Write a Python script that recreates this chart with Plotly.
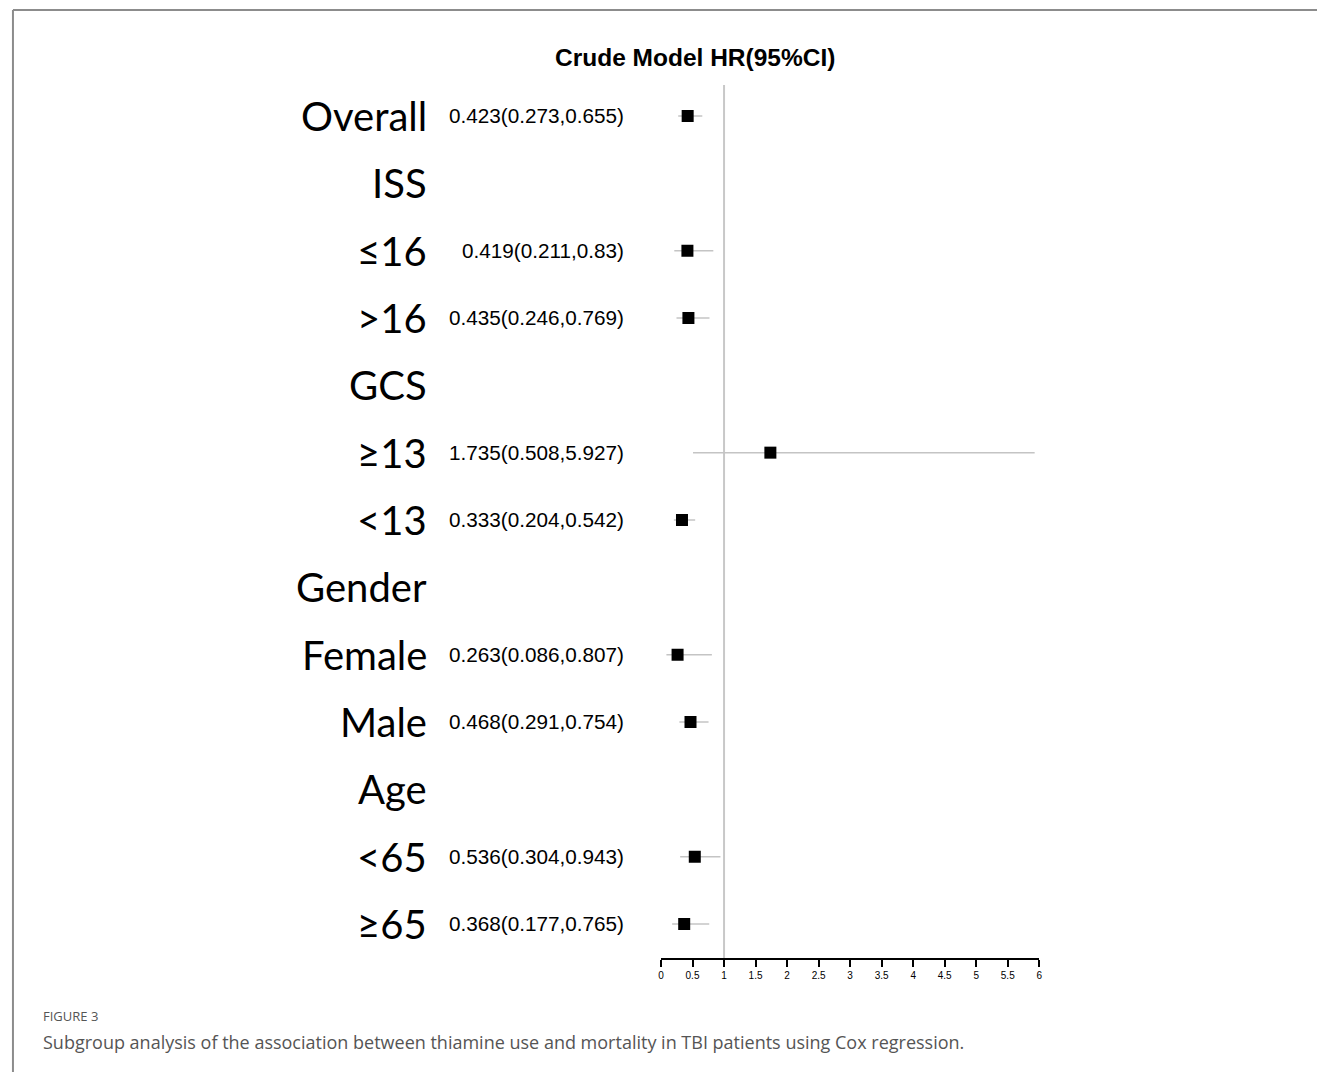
import plotly.graph_objects as go

# Subgroup rows (top to bottom); header rows carry no estimate
labels = ["Overall", "ISS", "≤16", ">16", "GCS", "≥13", "<13",
          "Gender", "Female", "Male", "Age", "<65", "≥65"]
hr = [0.423, None, 0.419, 0.435, None, 1.735, 0.333, None, 0.263, 0.468, None, 0.536, 0.368]
ci_low = [0.273, None, 0.211, 0.246, None, 0.508, 0.204, None, 0.086, 0.291, None, 0.304, 0.177]
ci_high = [0.655, None, 0.83, 0.769, None, 5.927, 0.542, None, 0.807, 0.754, None, 0.943, 0.765]
hr_text = ["0.423(0.273,0.655)", "", "0.419(0.211,0.83)", "0.435(0.246,0.769)", "",
           "1.735(0.508,5.927)", "0.333(0.204,0.542)", "", "0.263(0.086,0.807)",
           "0.468(0.291,0.754)", "", "0.536(0.304,0.943)", "0.368(0.177,0.765)"]
x_ticks = [0, 0.5, 1, 1.5, 2, 2.5, 3, 3.5, 4, 4.5, 5, 5.5, 6]
x_tick_text = ["0", "0.5", "1", "1.5", "2", "2.5", "3", "3.5", "4", "4.5", "5", "5.5", "6"]

W, H = 1320, 1072
rows = list(range(len(labels)))
pts = [i for i in rows if hr[i] is not None]

fig = go.Figure()
fig.add_trace(go.Scatter(
    x=[hr[i] for i in pts],
    y=pts,
    mode="markers",
    marker=dict(symbol="square", size=12, color="black"),
    error_x=dict(
        type="data", symmetric=False,
        array=[ci_high[i] - hr[i] for i in pts],
        arrayminus=[hr[i] - ci_low[i] for i in pts],
        color="#c4c4c4", thickness=1.5, width=0,
    ),
    hoverinfo="skip",
    showlegend=False,
))

# row labels and estimate text
for i in rows:
    fig.add_annotation(x=428 / W, xref="paper", y=i, yref="y", text=labels[i],
                       showarrow=False, xanchor="right", yanchor="middle",
                       font=dict(family="Lato", size=40, color="black"))
    if hr_text[i]:
        fig.add_annotation(x=626 / W, xref="paper", y=i, yref="y", text=hr_text[i],
                           showarrow=False, xanchor="right", yanchor="middle",
                           font=dict(family="Liberation Sans, Arial", size=20.7, color="black"))

# reference line at HR = 1
fig.add_shape(type="line", x0=1, x1=1, xref="x", y0=0, y1=1, yref="y domain",
              line=dict(color="#c8c8c8", width=2), layer="below")

# heading
fig.add_annotation(x=695 / W, y=1 - 58 / H, xref="paper", yref="paper",
                   text="<b>Crude Model HR(95%CI)</b>", showarrow=False,
                   xanchor="center", yanchor="middle",
                   font=dict(family="Liberation Sans, Arial", size=24.5, color="black"))

# caption
fig.add_annotation(x=38 / W, y=1 - 1016 / H, xref="paper", yref="paper",
                   text="FIGURE 3", showarrow=False, xanchor="left", yanchor="middle",
                   font=dict(family="Open Sans", size=13, color="#555555"))
fig.add_annotation(x=38 / W, y=1 - 1042 / H, xref="paper", yref="paper",
                   text="Subgroup analysis of the association between thiamine use and mortality in TBI patients using Cox regression.",
                   showarrow=False, xanchor="left", yanchor="middle",
                   font=dict(family="Open Sans", size=18, color="#555555"))

# panel frame (top and left edges)
fig.add_shape(type="line", xref="paper", yref="paper", x0=10 / W, x1=1, y0=1 - 10 / H, y1=1 - 10 / H,
              line=dict(color="#8c8c8c", width=2))
fig.add_shape(type="line", xref="paper", yref="paper", x0=10 / W, x1=10 / W, y0=0, y1=1 - 10 / H,
              line=dict(color="#8c8c8c", width=2))

row_px0, row_step = 116, 67.33
y_top = (85 - row_px0) / row_step
y_bot = (958 - row_px0) / row_step

fig.update_layout(
    width=W, height=H,
    margin=dict(l=0, r=0, t=0, b=0),
    paper_bgcolor="white", plot_bgcolor="white",
    xaxis=dict(
        domain=[661 / W, 1041 / W], range=[0, 6],
        tickvals=x_ticks, ticktext=x_tick_text,
        ticks="outside", ticklen=7, tickwidth=1.5, tickcolor="black",
        showline=True, linecolor="black", linewidth=1.5,
        showgrid=False, zeroline=False,
        tickfont=dict(family="Liberation Sans, Arial", size=10, color="black"),
        fixedrange=True,
    ),
    yaxis=dict(
        domain=[1 - 958 / H, 1 - 85 / H], range=[y_bot, y_top],
        visible=False, showgrid=False, zeroline=False, fixedrange=True,
    ),
)

fig.write_html("out.html")
